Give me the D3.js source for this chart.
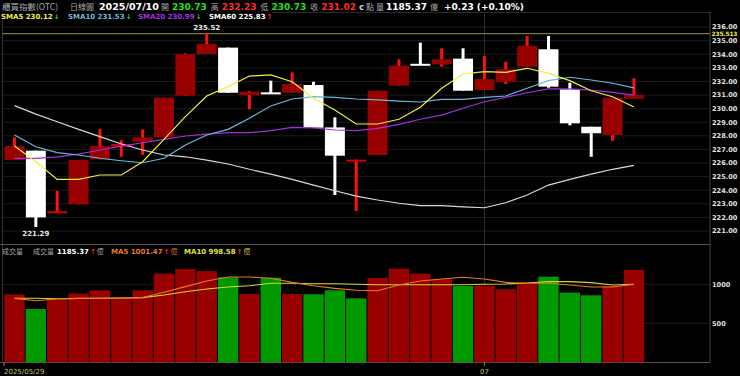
<!DOCTYPE html>
<html><head><meta charset="utf-8">
<script src="https://cdn.jsdelivr.net/npm/d3@7"></script>
<style>html,body{margin:0;padding:0;background:#000;}svg{display:block}</style>
</head><body><svg id="c" width="740" height="376"></svg>
<script>
// ---------- DATA ----------
const dates = ["2025/05/29","2025/06/02","2025/06/03","2025/06/04","2025/06/05","2025/06/06","2025/06/09","2025/06/10","2025/06/11","2025/06/12","2025/06/13","2025/06/16","2025/06/17","2025/06/18","2025/06/19","2025/06/20","2025/06/23","2025/06/24","2025/06/25","2025/06/26","2025/06/27","2025/06/30","2025/07/01","2025/07/02","2025/07/03","2025/07/04","2025/07/07","2025/07/08","2025/07/09","2025/07/10"];
const open  = [226.22,226.91,222.38,222.96,226.27,227.22,227.57,227.89,230.95,234.02,234.49,231.00,231.20,231.17,231.74,228.62,226.10,226.59,231.69,233.30,233.26,233.68,231.37,231.98,233.09,234.37,231.42,228.67,228.06,230.73];
const high  = [227.89,226.91,223.96,226.22,228.50,227.69,228.47,230.81,234.07,235.52,234.49,231.30,232.06,232.67,231.98,229.36,226.25,231.32,233.63,234.85,234.44,234.44,233.87,233.45,235.35,235.35,231.91,228.67,228.06,232.23];
const low   = [226.22,221.29,222.38,222.96,226.27,226.46,226.59,227.89,230.95,234.02,231.17,229.95,231.15,231.17,228.60,223.65,222.47,226.59,231.69,233.20,233.09,231.32,231.37,231.81,233.09,231.54,228.77,226.46,227.64,230.73];
const close = [227.25,222.00,222.45,226.22,227.25,227.40,227.89,230.81,234.02,234.76,231.17,231.25,231.15,231.81,228.60,226.54,226.25,231.32,233.16,233.25,233.63,231.32,232.18,232.90,234.61,231.62,228.92,228.19,230.81,231.02];
const volume = [872,683,808,880,923,829,923,1136,1196,1170,1090,876,1085,876,872,923,820,1081,1200,1136,1068,978,982,936,1004,1098,893,859,978,1185.37];
const sma5  = [227.25,226.10,224.80,224.80,225.12,225.12,226.10,227.74,229.41,230.93,231.62,232.40,232.48,231.98,230.76,229.90,228.87,228.87,229.22,230.10,231.50,232.55,232.72,232.67,232.97,232.60,232.06,231.32,230.88,230.12];
const sma10 = [228.06,227.20,226.76,226.59,226.35,226.17,226.02,226.35,227.33,228.06,228.48,229.29,230.20,230.71,230.88,230.83,230.71,230.64,230.56,230.49,230.69,230.69,230.83,230.93,231.50,232.06,232.31,232.11,231.87,231.53];
const sma20 = [226.35,226.35,226.46,226.66,226.96,227.25,227.49,227.74,227.99,228.13,228.23,228.23,228.38,228.63,228.58,228.43,228.38,228.55,228.85,229.22,229.53,230.03,230.51,230.83,231.17,231.45,231.45,231.37,231.20,230.99];
const sma60 = [230.22,229.60,229.04,228.48,227.94,227.40,226.96,226.59,226.46,226.22,225.93,225.54,225.19,224.80,224.38,223.96,223.57,223.28,223.04,222.86,222.86,222.78,222.71,223.08,223.65,224.38,224.80,225.19,225.54,225.83];
const volMA5  = [820,790,812,818,822,822,830,897,970,1042,1094,1094,1077,1025,982,948,923,918,991,1042,1068,1090,1068,1025,1013,1013,991,965,966,1001.47];
const volMA10 = [822,822,815,820,822,825,829,863,905,940,966,982,1013,1013,1008,1008,1000,995,995,995,995,995,1000,1004,1017,1034,1034,1021,991,998.58];
const priceTicks = [221,222,223,224,225,226,227,228,229,230,231,232,233,234,235,236];
const volTicks = [500,1000];
const refLine = 235.513;
const slots = 33;

// ---------- SETUP ----------
const svg = d3.select("#c");
const NUM = "'DejaVu Sans', Verdana, sans-serif";
const CJK = "'Noto Sans CJK TC', 'Noto Sans CJK SC', sans-serif";
svg.append("rect").attr("width",740).attr("height",376).attr("fill","#000");

const x = d3.scaleBand().domain(d3.range(slots)).range([3.8,708.7]).padding(0);
const bw = x.bandwidth();
const cx = i => x(i) + bw/2;
const y = d3.scaleLinear().domain([221,236]).range([231,27.1]);
const yv = d3.scaleLinear().domain([0,1000]).range([362.3,284.3]);
const L = 2.5, R = 710;

// grid
const g = svg.append("g");
g.selectAll(".pg").data(priceTicks).join("line")
  .attr("x1",L).attr("x2",R).attr("y1",d=>y(d)).attr("y2",d=>y(d))
  .attr("stroke","#1c1c1c").attr("stroke-width",1);
g.selectAll(".vg").data(volTicks).join("line").attr("class","vg")
  .attr("x1",L).attr("x2",R).attr("y1",d=>yv(d)).attr("y2",d=>yv(d))
  .attr("stroke","#1c1c1c").attr("stroke-width",1);
const julyIdx = dates.findIndex(d=>d.slice(5,7)==="07");
g.append("line").attr("x1",cx(julyIdx)).attr("x2",cx(julyIdx)).attr("y1",12).attr("y2",362.3).attr("stroke","#2e2e2e");
g.append("line").attr("x1",0).attr("x2",R).attr("y1",12.5).attr("y2",12.5).attr("stroke","#2a2a2a");
g.append("line").attr("x1",L).attr("x2",L).attr("y1",12).attr("y2",362.3).attr("stroke","#333");
g.append("line").attr("x1",R).attr("x2",R).attr("y1",12).attr("y2",362.3).attr("stroke","#4a4040");
g.append("line").attr("x1",0).attr("x2",R).attr("y1",244.5).attr("y2",244.5).attr("stroke","#555");
g.append("line").attr("x1",0).attr("x2",R).attr("y1",362.5).attr("y2",362.5).attr("stroke","#555");
g.append("line").attr("x1",L).attr("x2",R).attr("y1",y(refLine)).attr("y2",y(refLine)).attr("stroke","#7a7a38").attr("stroke-width",1.2);

// ---------- CANDLES ----------
const idx = d3.range(dates.length);
const up = i => close[i] >= open[i];
const cg = svg.append("g");
cg.selectAll(".wick").data(idx).join("rect")
  .attr("x",i=>cx(i)-1.5).attr("width",3)
  .attr("y",i=>y(high[i])).attr("height",i=>Math.max(1,y(low[i])-y(high[i])))
  .attr("fill",i=>up(i)?"#ff1010":"#ffffff");
cg.selectAll(".body").data(idx).join("rect")
  .attr("x",i=>x(i)+0.7).attr("width",bw-1.4)
  .attr("y",i=>Math.min(y(open[i]),y(close[i])))
  .attr("height",i=>Math.max(2,Math.abs(y(open[i])-y(close[i]))))
  .attr("fill",i=>up(i)?(Math.abs(y(open[i])-y(close[i]))<3?"#d00000":"#990000"):"#ffffff");

const line = arr => d3.line().x((d,i)=>cx(i)).y(d=>y(d))(arr);
[[sma60,"#d8d8d8"],[sma20,"#a030e0"],[sma10,"#6ab8dc"],[sma5,"#f0f040"]].forEach(([a,c])=>{
  svg.append("path").attr("d",line(a)).attr("fill","none").attr("stroke",c).attr("stroke-width",1.2);
});

// ---------- VOLUME ----------
const vg = svg.append("g");
vg.selectAll("rect").data(idx).join("rect")
  .attr("x",i=>x(i)+0.5).attr("width",bw-1)
  .attr("y",i=>yv(volume[i])).attr("height",i=>yv(0)-yv(volume[i]))
  .attr("fill",i=>(i===0||close[i]>=close[i-1])?"#990000":"#009900");
const vline = arr => d3.line().x((d,i)=>cx(i)).y(d=>yv(d))(arr);
svg.append("path").attr("d",vline(volMA10)).attr("fill","none").attr("stroke","#d8d830").attr("stroke-width",1.1);
svg.append("path").attr("d",vline(volMA5)).attr("fill","none").attr("stroke","#e8782a").attr("stroke-width",1.1);

// ---------- AXES ----------
const ax = svg.append("g").attr("font-family",NUM).attr("font-size",6.6).attr("font-weight","bold");
ax.selectAll(".pt").data(priceTicks).join("text")
  .attr("x",712).attr("y",d=>y(d)).attr("dy","0.35em").attr("fill","#e0e0e0").text(d=>d.toFixed(2));
ax.append("text").attr("x",711.5).attr("y",y(refLine)).attr("dy","0.35em").attr("fill","#f0f040")
  .attr("font-size",5.9).attr("letter-spacing",-0.15).text(refLine.toFixed(3));
ax.selectAll(".vt").data(volTicks).join("text").attr("class","vt")
  .attr("x",712).attr("y",d=>yv(d)).attr("dy","0.35em").attr("fill","#e0e0e0").text(d=>d);

const hiI = d3.maxIndex(high), loI = d3.minIndex(low);
ax.append("text").attr("x",cx(hiI)).attr("y",y(high[hiI])-4).attr("text-anchor","middle").attr("fill","#e8e8e8").attr("font-size",7).text(high[hiI].toFixed(2));
ax.append("text").attr("x",cx(loI)).attr("y",y(low[loI])+9).attr("text-anchor","middle").attr("fill","#e8e8e8").attr("font-size",7).text(low[loI].toFixed(2));

const xa = svg.append("g").attr("font-family",NUM).attr("font-size",7).attr("fill","#c0c060");
xa.append("line").attr("x1",4).attr("x2",4).attr("y1",362.5).attr("y2",366).attr("stroke","#888");
xa.append("text").attr("x",4).attr("y",374).text(dates[0]);
xa.append("line").attr("x1",cx(julyIdx)).attr("x2",cx(julyIdx)).attr("y1",362.5).attr("y2",366).attr("stroke","#888");
xa.append("text").attr("x",cx(julyIdx)).attr("y",374).attr("text-anchor","middle").text(dates[julyIdx].slice(5,7));

// ---------- HEADER ----------
function seq(x0, yb, parts){
  let cur = x0;
  parts.forEach(p=>{
    if (p.gap) { cur += p.gap; return; }
    const t = svg.append("text").attr("x",p.x!==undefined?p.x:cur).attr("y",yb)
      .attr("font-family",p.cjk?CJK:NUM).attr("font-size",p.size)
      .attr("font-weight",p.bold?"bold":"normal").attr("fill",p.c).text(p.t);
    cur = (p.x!==undefined?p.x:cur) + t.node().getComputedTextLength();
  });
}
const grey = "#a8a8a8";
const NS = 9, CS = 8;
seq(0,10,[
  {x:2,t:"櫃買指數(OTC)",c:grey,size:8.5,cjk:true},
  {x:70,t:"日線圖",c:grey,size:CS,cjk:true},
  {x:99,t:"2025/07/10",c:"#ffffff",size:9.5,bold:true},
  {x:161,t:"開",c:grey,size:CS,cjk:true},{gap:3},
  {t:open[29].toFixed(2),c:"#20e020",size:NS,bold:true},{gap:4},
  {t:"高",c:grey,size:CS,cjk:true},{gap:3},
  {t:high[29].toFixed(2),c:"#ff2a2a",size:NS,bold:true},{gap:4},
  {t:"低",c:grey,size:CS,cjk:true},{gap:3},
  {t:low[29].toFixed(2),c:"#20e020",size:NS,bold:true},{gap:4},
  {t:"收",c:grey,size:CS,cjk:true},{gap:3},
  {t:close[29].toFixed(2),c:"#ff2a2a",size:NS,bold:true},{gap:3},
  {t:"c",c:"#d0d0d0",size:8.5,bold:true},{gap:2},
  {t:"點",c:grey,size:CS,cjk:true},{gap:2},
  {t:"量",c:grey,size:CS,cjk:true},{gap:2},
  {t:"1185.37",c:"#ffffff",size:NS,bold:true},{gap:3},
  {t:"億",c:grey,size:CS,cjk:true},{gap:6},
  {t:"+0.23 (+0.10%)",c:"#ffffff",size:NS,bold:true}
]);
const dn="#20d020", upc="#ff2020";
svg.append("rect").attr("x",0).attr("y",12).attr("width",272).attr("height",8).attr("fill","#000");
seq(1,18.5,[{t:"SMA5 "+sma5[29].toFixed(2),c:"#f0f040",size:7,bold:true},{gap:1},{t:"↓",c:dn,size:7,bold:true}]);
seq(68,18.5,[{t:"SMA10 "+sma10[29].toFixed(2),c:"#6ab8dc",size:7,bold:true},{gap:1},{t:"↓",c:dn,size:7,bold:true}]);
seq(138,18.5,[{t:"SMA20 "+sma20[29].toFixed(2),c:"#a030e0",size:7,bold:true},{gap:1},{t:"↓",c:dn,size:7,bold:true}]);
seq(209,18.5,[{t:"SMA60 "+sma60[29].toFixed(2),c:"#ffffff",size:7,bold:true},{gap:1},{t:"↑",c:upc,size:7,bold:true}]);

seq(2,253.5,[{t:"成交量",c:grey,size:7,cjk:true}]);
seq(33,253.5,[{t:"成交量",c:grey,size:7,cjk:true},{gap:3},{t:volume[29].toFixed(2),c:"#ffffff",size:7,bold:true},{gap:1},{t:"↑",c:upc,size:7,bold:true},{gap:1},{t:"億",c:grey,size:7,cjk:true}]);
seq(111,253.5,[{t:"MA5 "+volMA5[29].toFixed(2),c:"#e8782a",size:7,bold:true},{gap:1},{t:"↑",c:upc,size:7,bold:true},{gap:1},{t:"億",c:"#c87030",size:7,cjk:true}]);
seq(184,253.5,[{t:"MA10 "+volMA10[29].toFixed(2),c:"#e0e040",size:7,bold:true},{gap:1},{t:"↑",c:upc,size:7,bold:true},{gap:1},{t:"億",c:"#c0c040",size:7,cjk:true}]);
</script></body></html>
